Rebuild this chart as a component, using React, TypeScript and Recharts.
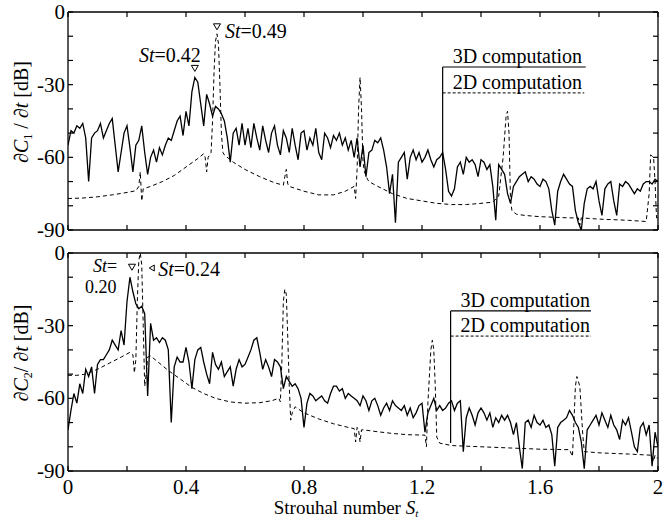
import React from "react";
import {
  LineChart,
  Line,
  XAxis,
  YAxis,
  ReferenceLine,
  ReferenceDot,
} from "recharts";

const FONT = '"Liberation Serif", "DejaVu Serif", serif';

// Strouhal sampling grid for the 3D spectra (0 .. 2, step 0.01)
const stGrid = Array.from({ length: 201 }, (_, i) => Math.round(i) / 100);

// dC1/dt, 3D computation [dB]
const c1Solid = [
  -55, -49, -50, -47, -48, -46, -52, -70, -52, -50,
  -49, -46, -52, -49, -46, -44, -55, -66, -58, -50,
  -47, -56, -66, -55, -53, -47, -58, -67, -60, -57,
  -62, -56, -59, -55, -52, -53, -49, -45, -43, -51,
  -41, -47, -33, -27, -29, -38, -47, -34, -38, -43,
  -39, -40, -42, -45, -52, -62, -50, -48, -55, -46,
  -55, -48, -56, -46, -52, -57, -47, -53, -58, -50,
  -47, -55, -59, -49, -52, -58, -48, -55, -61, -50,
  -49, -57, -52, -55, -48, -58, -61, -50, -52, -56,
  -51, -53, -50, -55, -52, -57, -53, -60, -52, -64,
  -55, -68, -58, -57, -53, -54, -52, -57, -64, -75,
  -67, -87, -62, -60, -58, -69, -60, -57, -61, -58,
  -62, -60, -57, -61, -64, -61, -60, -58, -65, -74,
  -76, -73, -64, -62, -67, -60, -62, -61, -63, -68,
  -61, -62, -65, -63, -72, -86, -63, -65, -67, -75,
  -79, -72, -70, -68, -67, -66, -70, -68, -69, -71,
  -72, -69, -70, -73, -82, -88, -74, -70, -67, -69,
  -71, -72, -82, -87, -90, -79, -73, -72, -73, -70,
  -78, -84, -73, -71, -70, -78, -84, -71, -72, -70,
  -71, -73, -75, -73, -74, -71, -70, -70, -71, -69,
  -70,
];

// dC2/dt, 3D computation [dB]
const c2Solid = [
  -73, -65, -58, -62, -54, -58, -48, -51, -47, -58,
  -46, -44, -44, -42, -40, -36, -38, -40, -32, -38,
  -20, -10, -16, -21, -23, -22, -25, -59, -29, -36,
  -35, -37, -35, -36, -40, -70, -47, -43, -45, -45,
  -39, -45, -56, -44, -40, -39, -45, -50, -54, -41,
  -46, -48, -45, -51, -49, -47, -55, -48, -44, -47,
  -46, -43, -40, -36, -35, -41, -48, -44, -47, -51,
  -44, -45, -47, -56, -51, -53, -55, -54, -56, -60,
  -72, -62, -58, -59, -61, -60, -59, -61, -62, -58,
  -55, -55, -57, -56, -60, -58, -59, -60, -61, -63,
  -59, -61, -65, -61, -60, -63, -67, -64, -62, -65,
  -61, -63, -64, -65, -63, -67, -64, -68, -66, -63,
  -62, -74, -66, -63, -60, -65, -63, -65, -64, -62,
  -61, -65, -62, -61, -82, -68, -64, -67, -71, -66,
  -64, -66, -69, -66, -72, -68, -70, -67, -69, -67,
  -70, -75, -70, -80, -89, -70, -69, -72, -67, -70,
  -71, -69, -72, -71, -75, -88, -72, -70, -69, -68,
  -65, -67, -70, -72, -78, -89, -73, -71, -69, -67,
  -71, -66, -69, -72, -67, -71, -73, -77, -69, -71,
  -68, -74, -80, -82, -72, -70, -75, -71, -88, -74,
  -80,
];

// dC1/dt, 2D computation
const c1DashSt = [
  0, 0.05, 0.1, 0.15, 0.2, 0.23, 0.24, 0.245, 0.25, 0.255, 0.28, 0.32, 0.36,
  0.4, 0.44, 0.46, 0.465, 0.47, 0.475, 0.485, 0.49, 0.495, 0.5, 0.505, 0.51,
  0.515, 0.52, 0.525, 0.53, 0.56, 0.6, 0.65, 0.7, 0.73, 0.735, 0.74, 0.745,
  0.75, 0.8, 0.85, 0.9, 0.94, 0.97, 0.975, 0.98, 0.985, 0.99, 0.995, 1.0,
  1.005, 1.015, 1.02, 1.05, 1.1, 1.15, 1.2, 1.25, 1.3, 1.35, 1.4, 1.44, 1.46,
  1.475, 1.485, 1.49, 1.495, 1.5, 1.505, 1.52, 1.55, 1.6, 1.7, 1.73, 1.735,
  1.74, 1.8, 1.9, 1.96, 1.97, 1.975, 1.985, 1.99, 1.995, 2.0,
];
const c1DashDb = [
  -77, -76.8, -76.3, -75.5, -74.5, -73.8, -72, -66, -78, -73, -72, -70, -67.5,
  -64, -60.5, -58.5, -60, -66, -60, -58, -45, -25, -12, -9, -13,
  -30, -50, -58, -59, -62, -65, -68, -70.5, -71.5, -68, -65, -71,
  -72, -74, -75.5, -75.5, -74, -72, -77, -65, -40, -27, -40, -62,
  -66, -69, -70, -72, -75, -77, -78, -79, -79.5, -79.5, -79, -78.5, -76,
  -60, -43, -41, -50, -78, -82, -83.5, -84, -84.5, -85, -85, -88,
  -85, -85.5, -86, -86.5, -75, -59, -60, -70, -85, -85,
];

// dC2/dt, 2D computation
const c2DashSt = [
  0, 0.03, 0.06, 0.1, 0.14, 0.18, 0.21, 0.22, 0.225, 0.23, 0.235, 0.24, 0.245,
  0.25, 0.255, 0.26, 0.265, 0.27, 0.28, 0.3, 0.34, 0.38, 0.42, 0.46, 0.5, 0.55,
  0.6, 0.65, 0.69, 0.715, 0.72, 0.725, 0.73, 0.735, 0.74, 0.745, 0.75, 0.755,
  0.76, 0.77, 0.8, 0.85, 0.9, 0.95, 0.97, 0.975, 0.98, 0.985, 0.99, 0.995, 1.0,
  1.05, 1.1, 1.15, 1.21, 1.215, 1.22, 1.23, 1.235, 1.24, 1.245, 1.25, 1.26, 1.3,
  1.4, 1.5, 1.6, 1.7, 1.71, 1.715, 1.72, 1.725, 1.735, 1.745, 1.75, 1.8, 1.9,
  1.98, 1.985, 1.99, 2.0,
];
const c2DashDb = [
  -50.5, -50.5, -50, -48, -45.5, -43, -41, -42, -49.5, -44, -20, -3, 0,
  -5, -30, -55, -50, -43, -42.5, -44.5, -48.5, -52, -55.5, -58, -60, -61.5,
  -62, -61.8, -61, -60, -61.5, -45, -20, -15, -17, -35, -55, -69,
  -66, -63.5, -66, -68.5, -70.5, -72, -72.5, -78, -72, -73, -78, -73, -73,
  -73.8, -74.5, -75, -75.2, -80, -62, -40, -36, -40, -55, -76, -78.5, -79.5,
  -80, -80.5, -81, -81.2, -84, -70, -55, -51, -55, -75, -82, -82.5, -83,
  -83.5, -86, -83.5, -85,
];

const xTicks = [0, 0.2, 0.4, 0.6, 0.8, 1, 1.2, 1.4, 1.6, 1.8, 2];
const xLabels = ["0", "0.4", "0.8", "1.2", "1.6", "2"];
const yTicks = [-90, -80, -70, -60, -50, -40, -30, -20, -10, 0];
const yLabels = ["-90", "-60", "-30", "0"];

const toPoints = (xs: number[], ys: number[]) =>
  xs.map((x, i) => ({ x, y: ys[i] }));

const solid1 = toPoints(stGrid, c1Solid);
const solid2 = toPoints(stGrid, c2Solid);
const dash1 = toPoints(c1DashSt, c1DashDb);
const dash2 = toPoints(c2DashSt, c2DashDb);

const TICK_LEN = 5;
const axisLine = { stroke: "#000", strokeWidth: 1.3 };

const bottomTick = (withLabels: boolean) => (p: any) => {
  const s = String(p.payload.value);
  return (
    <g>
      <line x1={p.x} y1={p.y} x2={p.x} y2={p.y - TICK_LEN} stroke="#000" strokeWidth={1.2} />
      {withLabels && xLabels.includes(s) && (
        <text x={p.x} y={p.y + 23} textAnchor="middle" fontFamily={FONT} fontSize={21} fill="#000">
          {s}
        </text>
      )}
    </g>
  );
};

const topTick = (p: any) => (
  <line x1={p.x} y1={p.y} x2={p.x} y2={p.y + TICK_LEN} stroke="#000" strokeWidth={1.2} />
);

const leftTick = (p: any) => {
  const s = String(p.payload.value);
  return (
    <g>
      <line x1={p.x} y1={p.y} x2={p.x + TICK_LEN} y2={p.y} stroke="#000" strokeWidth={1.2} />
      {yLabels.includes(s) && (
        <text x={p.x - 3} y={p.y + 7} textAnchor="end" fontFamily={FONT} fontSize={21} fill="#000">
          {s}
        </text>
      )}
    </g>
  );
};

const rightTick = (p: any) => (
  <line x1={p.x} y1={p.y} x2={p.x - TICK_LEN} y2={p.y} stroke="#000" strokeWidth={1.2} />
);

const yTitle = (sub: string, gap: string) => (props: any) => {
  const vb = props.viewBox;
  const cx = vb.x + 28;
  const cy = vb.y + 100;
  return (
    <text
      x={cx}
      y={cy}
      transform={`rotate(-90 ${cx} ${cy})`}
      textAnchor="middle"
      fontFamily={FONT}
      fontSize={20}
      fill="#000"
    >
      ∂<tspan fontStyle="italic">C</tspan>
      <tspan fontSize={12} dy={4}>{sub}</tspan>
      <tspan dy={-4}>{gap}/ ∂</tspan>
      <tspan fontStyle="italic">t</tspan> [dB]
    </text>
  );
};

const xTitle = (props: any) => {
  const vb = props.viewBox;
  return (
    <text x={vb.x + vb.width / 2 - 17} y={vb.y + 43} textAnchor="middle" fontFamily={FONT} fontSize={19} fill="#000">
      Strouhal number <tspan fontStyle="italic">S</tspan>
      <tspan fontStyle="italic" fontSize={11} dy={3}>t</tspan>
    </text>
  );
};

const StText = ({ x, y, anchor, value, size }: { x: number; y: number; anchor?: string; value: string; size?: number }) => (
  <text x={x} y={y} textAnchor={anchor || "start"} fontFamily={FONT} fontSize={size || 20} fill="#000">
    <tspan fontStyle="italic">St</tspan>
    {value}
  </text>
);

const downTri = (cx: number, cy: number) => (
  <polygon
    points={`${cx - 3.5},${cy - 3} ${cx + 3.5},${cy - 3} ${cx},${cy + 3}`}
    fill="#fff"
    stroke="#000"
    strokeWidth={1}
  />
);

const legendText = (label: string) => (p: any) => (
  <text x={p.cx + 10} y={p.cy - 4} fontFamily={FONT} fontSize={20} fill="#000">
    {label}
  </text>
);

const Frame = ({ children, height, top, bottomH, topH, labels, sub, gap }: any) => (
  <div style={{ position: "absolute", left: 0, top }}>
    <LineChart width={663} height={height} margin={{ top: 0, right: 0, bottom: 0, left: 0 }}>
      <XAxis
        dataKey="x"
        type="number"
        domain={[0, 2]}
        ticks={xTicks}
        interval={0}
        allowDataOverflow
        height={bottomH}
        tickSize={0}
        tickMargin={0}
        tickLine={false}
        axisLine={axisLine}
        tick={bottomTick(labels)}
        label={labels ? xTitle : undefined}
      />
      <XAxis
        xAxisId="top"
        orientation="top"
        dataKey="x"
        type="number"
        domain={[0, 2]}
        ticks={xTicks}
        interval={0}
        allowDataOverflow
        height={topH}
        tickSize={0}
        tickMargin={0}
        tickLine={false}
        axisLine={axisLine}
        tick={topTick}
      />
      <YAxis
        type="number"
        domain={[-90, 0]}
        ticks={yTicks}
        interval={0}
        allowDataOverflow
        width={68}
        tickSize={0}
        tickMargin={0}
        tickLine={false}
        axisLine={axisLine}
        tick={leftTick}
        label={yTitle(sub, gap)}
      />
      <YAxis
        yAxisId="right"
        orientation="right"
        type="number"
        domain={[-90, 0]}
        ticks={yTicks}
        interval={0}
        allowDataOverflow
        width={5}
        tickSize={0}
        tickMargin={0}
        tickLine={false}
        axisLine={axisLine}
        tick={rightTick}
      />
      {children}
    </LineChart>
  </div>
);

export default function App() {
  return (
    <div style={{ position: "absolute", left: 0, top: 0, width: 663, height: 520, background: "#fff" }}>
      <Frame height={248} top={0} bottomH={18} topH={12} labels={false} sub="1" gap=" ">
        <Line data={dash1} dataKey="y" type="linear" stroke="#000" strokeWidth={1} strokeDasharray="4 3" dot={false} isAnimationActive={false} />
        <Line data={solid1} dataKey="y" type="linear" stroke="#000" strokeWidth={1.3} dot={false} isAnimationActive={false} />
        <ReferenceLine segment={[{ x: 1.27, y: -78.4 }, { x: 1.27, y: -22.7 }]} stroke="#000" strokeWidth={1.2} />
        <ReferenceLine segment={[{ x: 1.27, y: -22.7 }, { x: 1.755, y: -22.7 }]} stroke="#000" strokeWidth={1.2} />
        <ReferenceLine segment={[{ x: 1.27, y: -33.4 }, { x: 1.75, y: -33.4 }]} stroke="#000" strokeWidth={1} strokeDasharray="3 2" />
        <ReferenceDot x={1.27} y={-22.7} r={0} shape={legendText("3D computation")} />
        <ReferenceDot x={1.27} y={-33.4} r={0} shape={legendText("2D computation")} />
        <ReferenceDot
          x={0.43}
          y={-27}
          r={0}
          shape={(p: any) => (
            <g>
              {downTri(p.cx, p.cy - 9)}
              <StText x={p.cx + 6} y={p.cy - 15} anchor="end" value="=0.42" />
            </g>
          )}
        />
        <ReferenceDot
          x={0.505}
          y={-9}
          r={0}
          shape={(p: any) => (
            <g>
              {downTri(p.cx, p.cy - 7)}
              <StText x={p.cx + 8} y={p.cy + 4} value="=0.49" />
            </g>
          )}
        />
      </Frame>
      <Frame height={280} top={240} bottomH={49} topH={13} labels={true} sub="2" gap="">
        <Line data={dash2} dataKey="y" type="linear" stroke="#000" strokeWidth={1} strokeDasharray="4 3" dot={false} isAnimationActive={false} />
        <Line data={solid2} dataKey="y" type="linear" stroke="#000" strokeWidth={1.3} dot={false} isAnimationActive={false} />
        <ReferenceLine segment={[{ x: 1.297, y: -78.4 }, { x: 1.297, y: -23.9 }]} stroke="#000" strokeWidth={1.2} />
        <ReferenceLine segment={[{ x: 1.297, y: -23.9 }, { x: 1.773, y: -23.9 }]} stroke="#000" strokeWidth={1.2} />
        <ReferenceLine segment={[{ x: 1.297, y: -34.3 }, { x: 1.773, y: -34.3 }]} stroke="#000" strokeWidth={1} strokeDasharray="3 2" />
        <ReferenceDot x={1.297} y={-23.9} r={0} shape={legendText("3D computation")} />
        <ReferenceDot x={1.297} y={-34.3} r={0} shape={legendText("2D computation")} />
        <ReferenceDot
          x={0.21}
          y={-10}
          r={0}
          shape={(p: any) => (
            <g>
              {downTri(p.cx + 2, p.cy - 10)}
              <StText x={p.cx - 37} y={p.cy - 5} value="=" size={18} />
              <text x={p.cx - 45} y={p.cy + 16} fontFamily={FONT} fontSize={18} fill="#000">
                0.20
              </text>
            </g>
          )}
        />
        <ReferenceDot
          x={0.245}
          y={0}
          r={0}
          shape={(p: any) => (
            <g>
              <polygon
                points={`${p.cx + 9},${p.cy + 15} ${p.cx + 14},${p.cy + 12} ${p.cx + 14},${p.cy + 18}`}
                fill="#fff"
                stroke="#000"
                strokeWidth={1}
              />
              <StText x={p.cx + 18} y={p.cy + 23} value="=0.24" />
            </g>
          )}
        />
      </Frame>
    </div>
  );
}
